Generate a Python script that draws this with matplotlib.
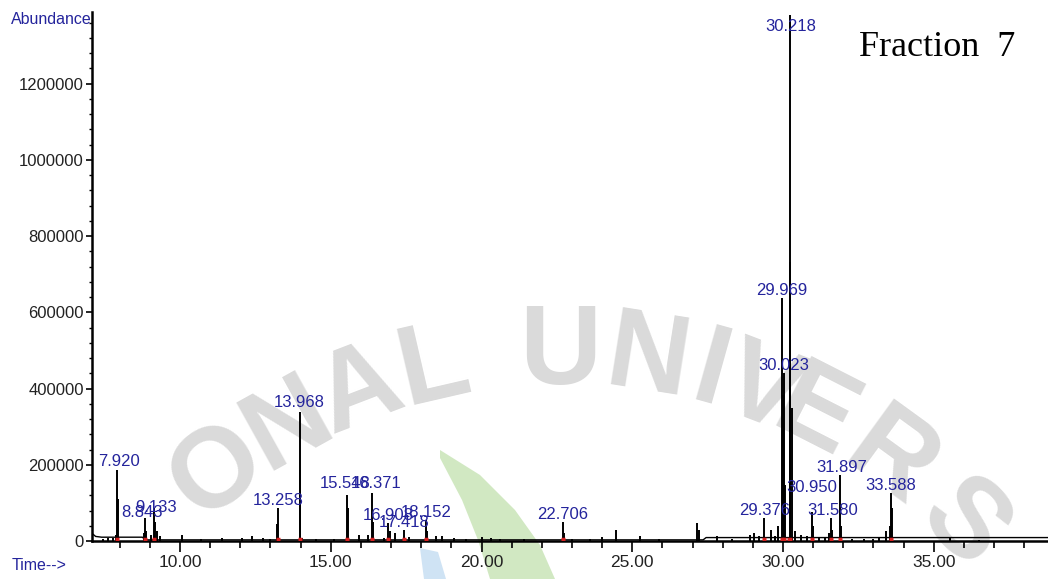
import numpy as np
import matplotlib
matplotlib.use("Agg")
import matplotlib.pyplot as plt
import matplotlib.ticker as ticker
from matplotlib.patches import Polygon

W, H = 1048, 579

# retention time (min) and apex abundance of every spike in the trace
peak_times = [7.45, 7.62, 7.78, 7.88, 7.920, 7.95, 8.80, 8.843, 8.87, 9.05,
              9.133, 9.16, 9.25, 9.33, 10.05, 10.7, 11.4, 12.05, 12.4, 12.75,
              13.0, 13.22, 13.258, 13.968, 13.98, 14.05, 14.5, 15.10, 15.548, 15.57,
              15.95, 16.22, 16.371, 16.40, 16.75, 16.908, 16.95, 17.12, 17.418, 17.6,
              18.152, 18.2, 18.5, 18.68, 19.1, 19.5, 20.0, 20.3, 20.6, 21.4,
              22.706, 22.75, 23.0, 23.6, 24.0, 24.47, 25.26, 25.9, 27.14, 27.20,
              27.8, 28.3, 28.9, 29.05, 29.2, 29.376, 29.6, 29.75, 29.85, 29.969,
              30.00, 30.023, 30.06, 30.218, 30.23, 30.30, 30.4, 30.6, 30.8, 30.950,
              30.98, 31.2, 31.4, 31.52, 31.580, 31.62, 31.897, 31.92, 32.3, 32.7,
              33.0, 33.2, 33.42, 33.55, 33.588, 33.61, 35.55, 36.5]
peak_heights = [6000, 8000, 8000, 16000, 186000, 110000, 20000, 60000, 25000, 15000,
                87000, 50000, 25000, 12000, 17000, 4000, 7000, 8000, 14000, 7000,
                5000, 45000, 87000, 339000, 186000, 8000, 5000, 5000, 121000, 87000,
                15000, 15000, 126000, 50000, 8000, 47000, 25000, 20000, 29000, 10000,
                55000, 25000, 13000, 13000, 7000, 5000, 10000, 8000, 5000, 5000,
                50000, 20000, 5000, 4000, 10000, 29000, 12000, 4000, 47000, 30000,
                12000, 5000, 15000, 20000, 12000, 60000, 30000, 12000, 40000, 638000,
                383000, 441000, 147000, 1380000, 732000, 349000, 25000, 15000, 12000, 75000,
                40000, 10000, 8000, 20000, 60000, 30000, 173000, 40000, 5000, 5000,
                5000, 8000, 25000, 40000, 126000, 87000, 10000, 3000]

# slowly drifting baseline between the spikes
base_times = [7.08, 7.2, 7.4, 8.75, 8.85, 27.35, 27.45, 38.8]
base_values = [20000, 12000, 10000, 10000, 3000, 3000, 9000, 9000]

# integrated peaks carrying a retention-time label
label_times = [7.920, 8.843, 9.133, 13.258, 13.968, 15.548, 16.371, 16.908, 17.418,
               18.152, 22.706, 29.376, 29.969, 30.023, 30.218, 30.950, 31.580,
               31.897, 33.588]

y_ticks = [0, 200000, 400000, 600000, 800000, 1000000, 1200000]
x_ticks = [10, 15, 20, 25, 30, 35]

# label nudges in pixels (dx, dy above the apex)
label_offset = {7.920: (2, 4), 8.843: (-3, 1), 9.133: (2, -4), 13.968: (0, 5),
                15.548: (-2, 7), 16.371: (4, 5), 30.218: (1, -16),
                30.950: (0, 20), 31.580: (2, 3), 31.897: (2, 3)}

BLUE = "#24249c"
plt.rcParams["font.family"] = ["Liberation Sans", "DejaVu Sans"]


def px(x, y):
    return x / W, 1 - y / H


fig = plt.figure(figsize=(W / 100, H / 100), dpi=100)

# faint seal lettering and leaf behind the plot
seal_cx, seal_cy, seal_r = 560, 915, 560
seal = [("O", -37.7), ("N", -29), ("A", -21), ("L", -13), ("U", 0), ("N", 9),
        ("I", 15.6), ("V", 21), ("E", 27), ("R", 36), ("S", 46)]
for ch, ang in seal:
    a = np.radians(ang)
    x = seal_cx + seal_r * np.sin(a)
    y = seal_cy - seal_r * np.cos(a)
    fig.text(*px(x, y), ch, fontsize=82, fontweight="bold", color="#dadada",
             rotation=-ang, ha="center", va="center", rotation_mode="anchor",
             zorder=-2)
leaf = [(440, 450), (480, 475), (515, 510), (540, 545), (555, 579),
        (490, 579), (478, 540), (462, 500), (440, 458)]
fig.add_artist(Polygon([px(*p) for p in leaf], closed=True, transform=fig.transFigure,
                       facecolor="#c6e3b3", edgecolor="none", alpha=0.8, zorder=-2))
drop = [(420, 548), (438, 552), (446, 579), (424, 579)]
fig.add_artist(Polygon([px(*p) for p in drop], closed=True, transform=fig.transFigure,
                       facecolor="#c3dcf2", edgecolor="none", alpha=0.8, zorder=-2))

ax = fig.add_axes([92 / W, (H - 541) / H, (W - 92) / W, (541 - 12) / H])
ax.patch.set_alpha(0)

ax.plot(base_times, base_values, color="black", lw=1.0, zorder=3)
ax.vlines(peak_times, 0, peak_heights, color="black", lw=1.4, zorder=3)

# red integration marks at the foot of each labelled peak
ax.hlines([4000] * len(label_times), np.array(label_times) - 0.07,
          np.array(label_times) + 0.07, color="#d62020", lw=2.5, zorder=4)

heights = dict(zip(peak_times, peak_heights))
for t in label_times:
    dx, dy = label_offset.get(t, (0, 3))
    ax.annotate(f"{t:.3f}", xy=(t, heights[t]), xytext=(dx, dy),
                textcoords="offset pixels", ha="center", va="baseline",
                fontsize=12, color=BLUE, zorder=5, annotation_clip=False)

ax.set_xlim(7.08, 38.79)
ax.set_ylim(0, 1388000)

ax.set_xticks(x_ticks)
ax.set_xticklabels([f"{v:.2f}" for v in x_ticks])
ax.xaxis.set_minor_locator(ticker.MultipleLocator(1))
ax.set_yticks(y_ticks)
ax.set_yticklabels([str(v) for v in y_ticks])
ax.yaxis.set_minor_locator(ticker.MultipleLocator(40000))

ax.tick_params(axis="x", which="major", length=8, width=1.2, pad=2, labelsize=12.5)
ax.tick_params(axis="x", which="minor", length=5, width=1.2)
ax.tick_params(axis="y", which="major", length=4.5, width=1.2, pad=1.5, labelsize=12)
ax.tick_params(axis="y", which="minor", length=2.5, width=1)
for lab in ax.get_xticklabels() + ax.get_yticklabels():
    lab.set_color("#222222")

for side in ("top", "right"):
    ax.spines[side].set_visible(False)
for side in ("left", "bottom"):
    ax.spines[side].set_linewidth(1.8)

fig.text(*px(92, 20), "Abundance", ha="right", va="center", fontsize=11.5, color=BLUE)
fig.text(*px(12, 565), "Time-->", ha="left", va="center", fontsize=11.5, color=BLUE)
fig.text(*px(1015, 47), "Fraction  7", ha="right", va="center", fontsize=26,
         family="Liberation Serif", color="black")

fig.savefig("out.png", dpi=100)
